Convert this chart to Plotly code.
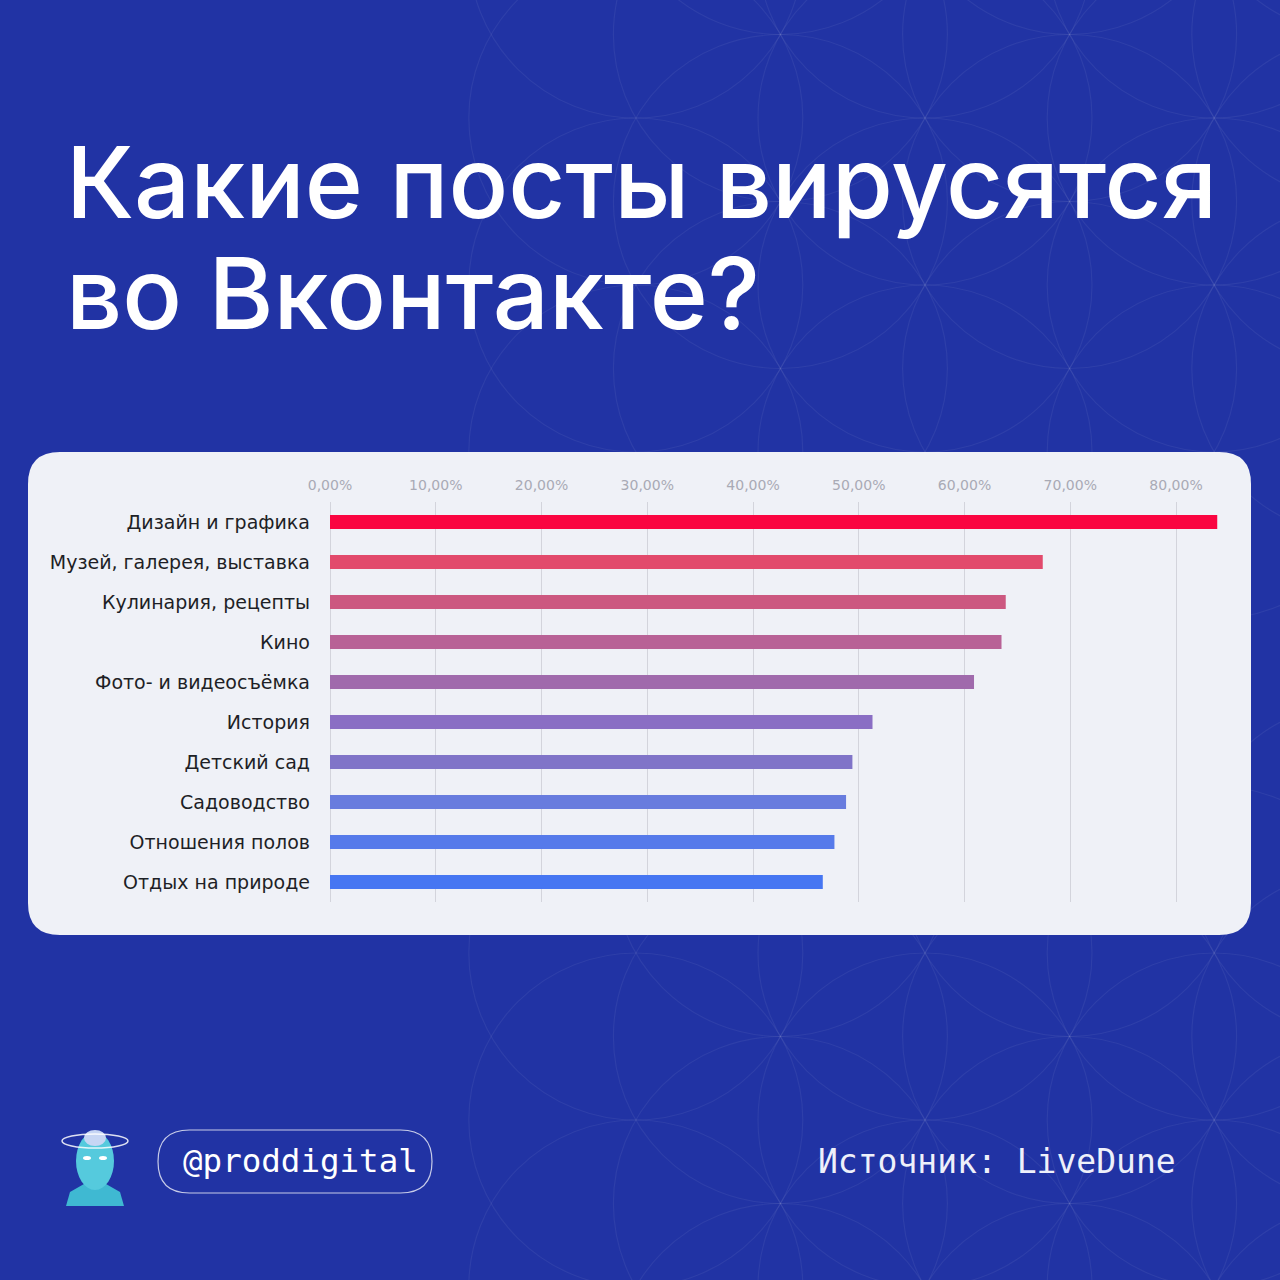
import plotly.graph_objects as go

# ---- data ----
categories = [
    "Дизайн и графика",
    "Музей, галерея, выставка",
    "Кулинария, рецепты",
    "Кино",
    "Фото- и видеосъёмка",
    "История",
    "Детский сад",
    "Садоводство",
    "Отношения полов",
    "Отдых на природе",
]
values = [83.9, 67.4, 63.9, 63.5, 60.9, 51.3, 49.4, 48.8, 47.7, 46.6]
bar_colors = ["#FA0541", "#E24A6C", "#CC5880", "#B86296", "#A06AAC",
              "#8A6EC4", "#8074C8", "#687CDE", "#567AEA", "#4676F2"]
tick_values = [0, 10, 20, 30, 40, 50, 60, 70, 80]
tick_labels = ["0,00%", "10,00%", "20,00%", "30,00%", "40,00%",
               "50,00%", "60,00%", "70,00%", "80,00%"]

title_line1 = "Какие посты вирусятся"
title_line2 = "во Вконтакте?"
handle_text = "@proddigital"
source_text = "Источник: LiveDune"

W = H = 1280
BG = "#2133A4"


def px(x):
    return x / W


def py(y):
    return 1 - y / H


def rounded_rect(x0, y0, x1, y1, r):
    X0, X1 = px(x0), px(x1)
    Y0, Y1 = py(y0), py(y1)
    rx, ry = r / W, r / H
    return (f"M {X0+rx},{Y0} L {X1-rx},{Y0} Q {X1},{Y0} {X1},{Y0-ry} "
            f"L {X1},{Y1+ry} Q {X1},{Y1} {X1-rx},{Y1} "
            f"L {X0+rx},{Y1} Q {X0},{Y1} {X0},{Y1+ry} "
            f"L {X0},{Y0-ry} Q {X0},{Y0} {X0+rx},{Y0} Z")


shapes = []

# decorative flower-of-life circles
R = 167
dx = 144.6
for k in range(-4, 4):
    cx = 925 + k * dx
    if cx < 600:
        continue
    for m in range(-3, 10):
        cy = 118 + k * 83.5 + m * R
        if cy < -R or cy > H + R:
            continue
        if 500 < cy < 860:
            continue
        shapes.append(dict(type="circle", xref="paper", yref="paper",
                           x0=px(cx - R), x1=px(cx + R), y0=py(cy + R), y1=py(cy - R),
                           line=dict(color="rgba(255,255,255,0.06)", width=1.2),
                           layer="below"))

# card
shapes.append(dict(type="path", xref="paper", yref="paper",
                   path=rounded_rect(28, 452, 1251, 935, 32),
                   fillcolor="#EFF1F7", line=dict(width=0), layer="below"))

# pill
shapes.append(dict(type="path", xref="paper", yref="paper",
                   path=rounded_rect(158, 1130, 432, 1193, 31.5),
                   fillcolor="rgba(0,0,0,0)",
                   line=dict(color="rgba(255,255,255,0.75)", width=1.2)))

# simple logo approximation
shapes.append(dict(type="path", xref="paper", yref="paper",
                   path=(f"M {px(66)},{py(1206)} L {px(70)},{py(1192)} L {px(84)},{py(1184)} "
                         f"L {px(106)},{py(1184)} L {px(120)},{py(1192)} L {px(124)},{py(1206)} Z"),
                   fillcolor="#3FB9D2", line=dict(width=0)))
shapes.append(dict(type="circle", xref="paper", yref="paper",
                   x0=px(76), x1=px(114), y0=py(1190), y1=py(1132),
                   fillcolor="#55CADD", line=dict(width=0)))
shapes.append(dict(type="circle", xref="paper", yref="paper",
                   x0=px(84), x1=px(106), y0=py(1146), y1=py(1130),
                   fillcolor="#C7D6F4", line=dict(width=0)))
shapes.append(dict(type="circle", xref="paper", yref="paper",
                   x0=px(62), x1=px(128), y0=py(1148), y1=py(1134),
                   fillcolor="rgba(0,0,0,0)", line=dict(color="rgba(255,255,255,0.85)", width=1.5)))
for ex in (87, 103):
    shapes.append(dict(type="circle", xref="paper", yref="paper",
                       x0=px(ex - 4), x1=px(ex + 4), y0=py(1160), y1=py(1156),
                       fillcolor="white", line=dict(width=0)))

fig = go.Figure()
fig.add_trace(go.Bar(
    x=values, y=categories, orientation="h",
    marker=dict(color=bar_colors, line=dict(width=0)),
    hoverinfo="skip",
))

annotations = [
    dict(text=title_line1, x=px(64), y=py(182), xref="paper", yref="paper",
         xanchor="left", yanchor="middle", showarrow=False,
         font=dict(family="Inter", size=99, color="white", weight=500)),
    dict(text=title_line2, x=px(64), y=py(293), xref="paper", yref="paper",
         xanchor="left", yanchor="middle", showarrow=False,
         font=dict(family="Inter", size=99, color="white", weight=500)),
    dict(text=handle_text, x=px(300), y=py(1161), xref="paper", yref="paper",
         xanchor="center", yanchor="middle", showarrow=False,
         font=dict(family="DejaVu Sans Mono", size=32.5, color="white")),
    dict(text=source_text, x=px(816), y=py(1161), xref="paper", yref="paper",
         xanchor="left", yanchor="middle", showarrow=False,
         font=dict(family="DejaVu Sans Mono", size=33, color="#EEF0FA")),
]

fig.update_layout(
    width=W, height=H,
    autosize=False,
    margin=dict(l=0, r=0, t=0, b=0, pad=0),
    paper_bgcolor=BG,
    plot_bgcolor="rgba(0,0,0,0)",
    showlegend=False,
    bargap=0.65,
    shapes=shapes,
    annotations=annotations,
    xaxis=dict(
        domain=[px(330), px(330 + 86 * 10.575)],
        range=[0, 86],
        side="top",
        tickvals=tick_values,
        ticktext=tick_labels,
        tickfont=dict(family="DejaVu Sans", size=14, color="#A9AAB5"),
        showgrid=True, gridcolor="#D3D4DC", gridwidth=1,
        zeroline=True, zerolinecolor="#D3D4DC", zerolinewidth=1,
        showline=False, ticks="",
        ticklabelstandoff=8,
        automargin=False,
        fixedrange=True,
    ),
    yaxis=dict(
        domain=[py(902), py(502)],
        autorange="reversed",
        tickfont=dict(family="DejaVu Sans", size=19, color="#1E1F26"),
        showgrid=False, zeroline=False, showline=False, ticks="",
        ticklabelstandoff=19,
        automargin=False,
        fixedrange=True,
    ),
)

fig.write_html(
    "out.html",
    config={"responsive": False, "displayModeBar": False},
    post_script="document.body.style.margin='0';document.body.style.overflow='hidden';",
)
